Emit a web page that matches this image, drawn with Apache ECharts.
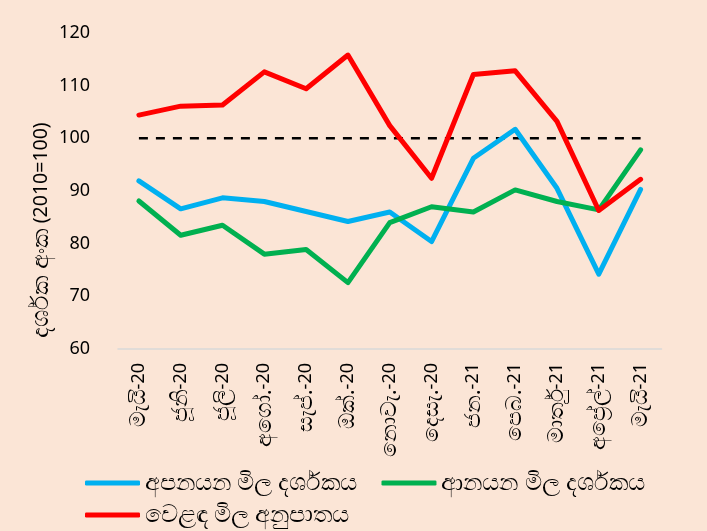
<!DOCTYPE html>
<html>
<head>
<meta charset="utf-8">
<script src="https://cdn.jsdelivr.net/npm/echarts@6/dist/echarts.min.js"></script>
<style>
html,body{margin:0;padding:0;background:#FBE5D6;}
#c{width:707px;height:531px;}
</style>
</head>
<body>
<div id="c"></div>
<script>
const categories = ['මැයි-20','ජූනි-20','ජූලි-20','අගෝ.-20','සැප්.-20','ඔක්.-20','නොවැ.-20','දෙසැ.-20','ජන.-21','පෙබ.-21','මාර්තු-21','අප්‍රේල්-21','මැයි-21'];
const exportIndex = [91.9, 86.6, 88.7, 88.0, 86.1, 84.2, 86.0, 80.4, 96.2, 101.7, 90.5, 74.2, 90.3];
const importIndex = [88.1, 81.6, 83.5, 78.0, 78.9, 72.6, 84.0, 87.0, 86.0, 90.2, 88.0, 86.4, 97.8];
const termsOfTrade = [104.4, 106.1, 106.3, 112.6, 109.4, 115.8, 102.4, 92.4, 112.1, 112.8, 103.2, 86.3, 92.2];
const baseLine = [100, 100, 100, 100, 100, 100, 100, 100, 100, 100, 100, 100, 100];
const seriesNames = ['අපනයන මිල දර්ශකය', 'ආනයන මිල දර්ශකය', 'වෙළඳ මිල අනුපාතය'];
const yAxisNameSi = 'දර්ශක අංක ';
const yAxisNameNum = '(2010=100)';

const FONT = '"Noto Sans", "Open Sans", sans-serif';
const chart = echarts.init(document.getElementById('c'));
const lineSeries = (name, data, color) => ({
  name, type: 'line', data, symbol: 'none', smooth: false,
  lineStyle: { color, width: 5, cap: 'round', join: 'round' },
  itemStyle: { color }
});
const legendText = { fontSize: 24, color: '#000', fontFamily: FONT };
chart.setOption({
  backgroundColor: '#FBE5D6',
  animation: false,
  textStyle: { fontFamily: FONT, color: '#000' },
  grid: { left: 118, right: 45.5, top: 32.9, bottom: 182, containLabel: false },
  legend: [
    { data: [seriesNames[0], seriesNames[1]], left: 80, top: 466, itemWidth: 55, itemHeight: 5, itemGap: 24,
      icon: 'roundRect', textStyle: legendText },
    { data: [seriesNames[2]], left: 80, top: 498, itemWidth: 55, itemHeight: 5,
      icon: 'roundRect', textStyle: legendText }
  ],
  xAxis: {
    type: 'category', data: categories, boundaryGap: true,
    axisLine: { show: true, lineStyle: { color: '#D9D9D9', width: 1.5 } },
    axisTick: { show: false },
    axisLabel: {
      rotate: 90, color: '#000', margin: 14, interval: 0, fontFamily: FONT,
      formatter: v => { const k = v.lastIndexOf('-'); return '{s|' + v.slice(0, k) + '}{n|' + v.slice(k) + '}'; },
      rich: {
        s: { fontSize: 22, fontFamily: FONT, color: '#000' },
        n: { fontSize: 18, fontFamily: FONT, color: '#000' }
      }
    }
  },
  yAxis: {
    type: 'value', min: 60, max: 120, interval: 10,
    axisLine: { show: false }, axisTick: { show: false },
    splitLine: { show: false },
    axisLabel: { fontSize: 18, color: '#000', margin: 28, fontFamily: FONT }
  },
  graphic: [{
    type: 'text', x: 41, y: 230, rotation: Math.PI / 2,
    style: {
      text: '{s|' + yAxisNameSi + '}{n|' + yAxisNameNum + '}', align: 'center', verticalAlign: 'middle',
      rich: {
        s: { fontSize: 24, fontFamily: FONT, fill: '#000' },
        n: { fontSize: 19.5, fontFamily: FONT, fill: '#000' }
      }
    }
  }],
  series: [
    lineSeries(seriesNames[0], exportIndex, '#00B0F0'),
    lineSeries(seriesNames[1], importIndex, '#00B050'),
    lineSeries(seriesNames[2], termsOfTrade, '#FF0000'),
    { name: 'base', type: 'line', data: baseLine, symbol: 'none', z: 1,
      lineStyle: { color: '#000', width: 2.5, type: [9, 8] } }
  ]
});
</script>
</body>
</html>
